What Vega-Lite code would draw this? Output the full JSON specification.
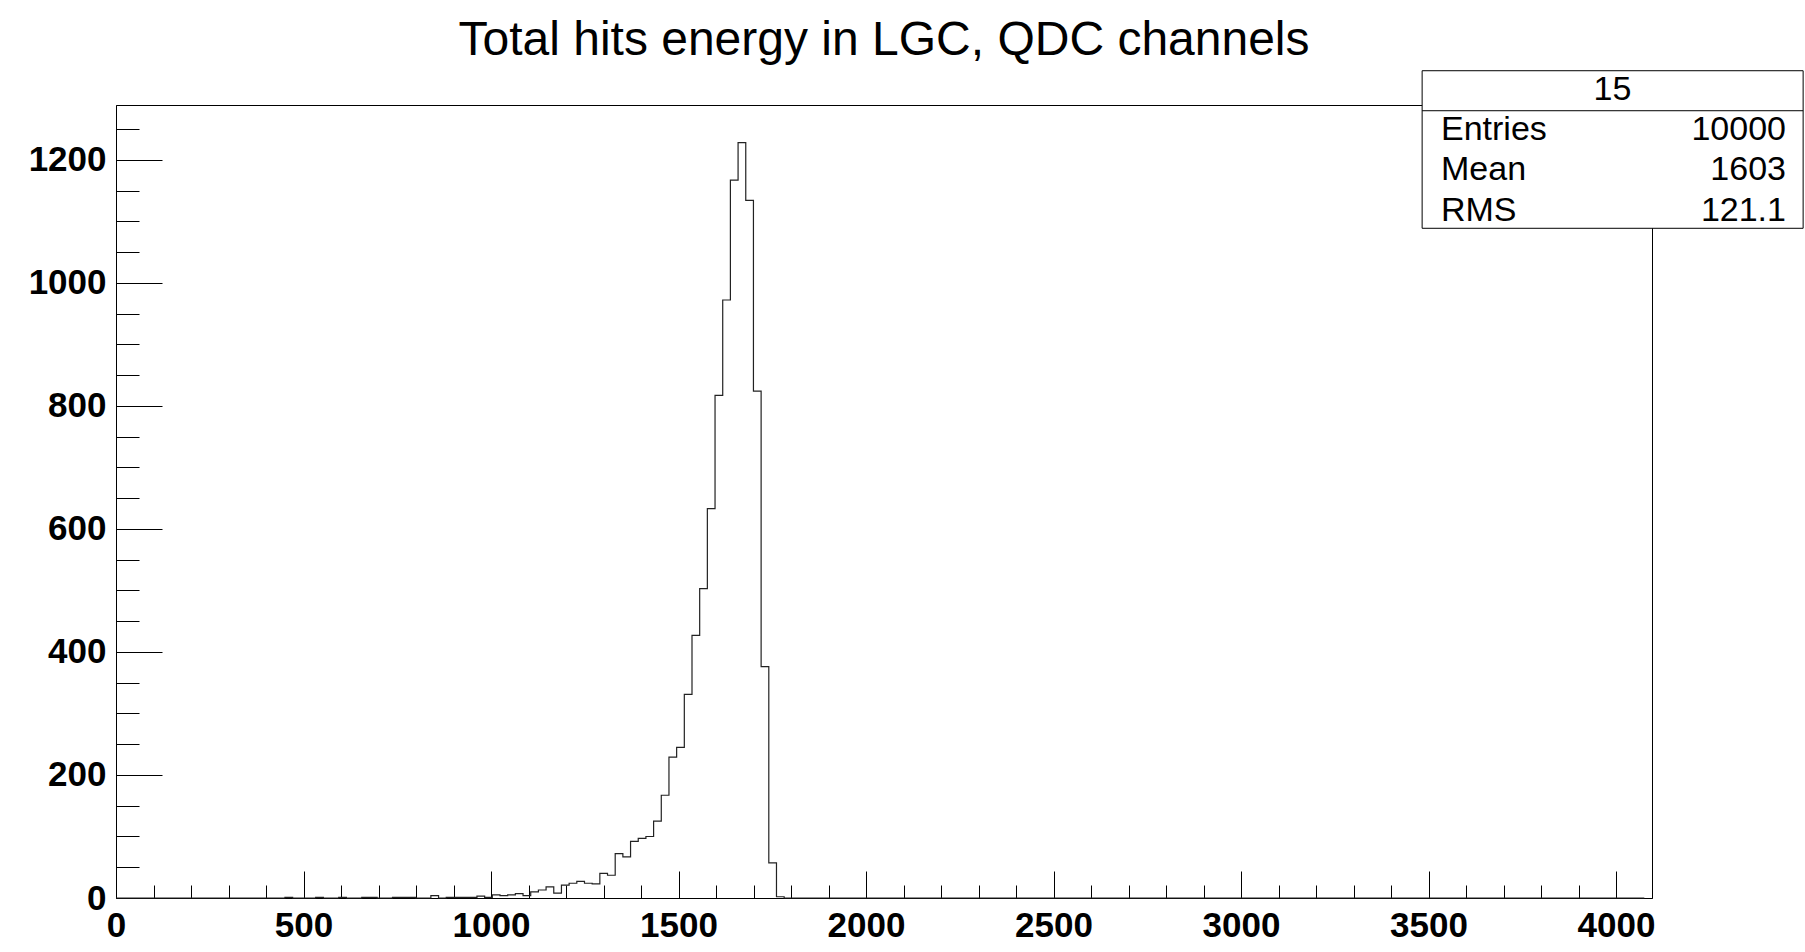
{
  "$schema": "https://vega.github.io/schema/vega-lite/v6.json",
  "width": 1536,
  "height": 793,
  "autosize": {"type": "none"},
  "padding": {"left": 116, "top": 105, "right": 153, "bottom": 54},
  "background": "white",
  "config": {
    "view": {"stroke": "black", "strokeWidth": 1},
    "font": "Liberation Sans"
  },
  "title": {
    "text": "Total hits energy in LGC, QDC channels",
    "font": "Liberation Sans",
    "fontSize": 48,
    "fontWeight": "normal",
    "color": "black",
    "anchor": "middle",
    "baseline": "alphabetic",
    "offset": -33
  },
  "datasets": {
    "hist": [
      {"lo": 0, "n": 0}, {"lo": 20.48, "n": 0}, {"lo": 40.96, "n": 0}, {"lo": 61.44, "n": 0}, {"lo": 81.92, "n": 0},
      {"lo": 102.4, "n": 0}, {"lo": 122.88, "n": 0}, {"lo": 143.36, "n": 0}, {"lo": 163.84, "n": 0}, {"lo": 184.32, "n": 0},
      {"lo": 204.8, "n": 0}, {"lo": 225.28, "n": 0}, {"lo": 245.76, "n": 0}, {"lo": 266.24, "n": 0}, {"lo": 286.72, "n": 0},
      {"lo": 307.2, "n": 0}, {"lo": 327.68, "n": 0}, {"lo": 348.16, "n": 0}, {"lo": 368.64, "n": 0}, {"lo": 389.12, "n": 0},
      {"lo": 409.6, "n": 0}, {"lo": 430.08, "n": 0}, {"lo": 450.56, "n": 1}, {"lo": 471.04, "n": 0}, {"lo": 491.52, "n": 0},
      {"lo": 512, "n": 0}, {"lo": 532.48, "n": 1}, {"lo": 552.96, "n": 0}, {"lo": 573.44, "n": 0}, {"lo": 593.92, "n": 1},
      {"lo": 614.4, "n": 0}, {"lo": 634.88, "n": 0}, {"lo": 655.36, "n": 1}, {"lo": 675.84, "n": 1}, {"lo": 696.32, "n": 0},
      {"lo": 716.8, "n": 0}, {"lo": 737.28, "n": 1}, {"lo": 757.76, "n": 1}, {"lo": 778.24, "n": 1}, {"lo": 798.72, "n": 0},
      {"lo": 819.2, "n": 0}, {"lo": 839.68, "n": 4}, {"lo": 860.16, "n": 0}, {"lo": 880.64, "n": 1}, {"lo": 901.12, "n": 1},
      {"lo": 921.6, "n": 1}, {"lo": 942.08, "n": 1}, {"lo": 962.56, "n": 3}, {"lo": 983.04, "n": 1}, {"lo": 1003.52, "n": 5},
      {"lo": 1024, "n": 4}, {"lo": 1044.48, "n": 5}, {"lo": 1064.96, "n": 7}, {"lo": 1085.44, "n": 4}, {"lo": 1105.92, "n": 10},
      {"lo": 1126.4, "n": 13}, {"lo": 1146.88, "n": 18}, {"lo": 1167.36, "n": 8}, {"lo": 1187.84, "n": 21}, {"lo": 1208.32, "n": 24},
      {"lo": 1228.8, "n": 27}, {"lo": 1249.28, "n": 24}, {"lo": 1269.76, "n": 23}, {"lo": 1290.24, "n": 40}, {"lo": 1310.72, "n": 37},
      {"lo": 1331.2, "n": 72}, {"lo": 1351.68, "n": 67}, {"lo": 1372.16, "n": 92}, {"lo": 1392.64, "n": 97}, {"lo": 1413.12, "n": 100},
      {"lo": 1433.6, "n": 125}, {"lo": 1454.08, "n": 167}, {"lo": 1474.56, "n": 229}, {"lo": 1495.04, "n": 245}, {"lo": 1515.52, "n": 331},
      {"lo": 1536, "n": 427}, {"lo": 1556.48, "n": 503}, {"lo": 1576.96, "n": 633}, {"lo": 1597.44, "n": 817}, {"lo": 1617.92, "n": 972},
      {"lo": 1638.4, "n": 1167}, {"lo": 1658.88, "n": 1228}, {"lo": 1679.36, "n": 1134}, {"lo": 1699.84, "n": 824}, {"lo": 1720.32, "n": 376},
      {"lo": 1740.8, "n": 57}, {"lo": 1761.28, "n": 2}, {"lo": 1781.76, "n": 0}, {"lo": 1802.24, "n": 0}, {"lo": 1822.72, "n": 0},
      {"lo": 1843.2, "n": 0}, {"lo": 1863.68, "n": 0}, {"lo": 1884.16, "n": 0}, {"lo": 1904.64, "n": 0}, {"lo": 1925.12, "n": 0},
      {"lo": 1945.6, "n": 0}, {"lo": 1966.08, "n": 0}, {"lo": 1986.56, "n": 0}, {"lo": 2007.04, "n": 0}, {"lo": 2027.52, "n": 0},
      {"lo": 2048, "n": 0}, {"lo": 2068.48, "n": 0}, {"lo": 2088.96, "n": 0}, {"lo": 2109.44, "n": 0}, {"lo": 2129.92, "n": 0},
      {"lo": 2150.4, "n": 0}, {"lo": 2170.88, "n": 0}, {"lo": 2191.36, "n": 0}, {"lo": 2211.84, "n": 0}, {"lo": 2232.32, "n": 0},
      {"lo": 2252.8, "n": 0}, {"lo": 2273.28, "n": 0}, {"lo": 2293.76, "n": 0}, {"lo": 2314.24, "n": 0}, {"lo": 2334.72, "n": 0},
      {"lo": 2355.2, "n": 0}, {"lo": 2375.68, "n": 0}, {"lo": 2396.16, "n": 0}, {"lo": 2416.64, "n": 0}, {"lo": 2437.12, "n": 0},
      {"lo": 2457.6, "n": 0}, {"lo": 2478.08, "n": 0}, {"lo": 2498.56, "n": 0}, {"lo": 2519.04, "n": 0}, {"lo": 2539.52, "n": 0},
      {"lo": 2560, "n": 0}, {"lo": 2580.48, "n": 0}, {"lo": 2600.96, "n": 0}, {"lo": 2621.44, "n": 0}, {"lo": 2641.92, "n": 0},
      {"lo": 2662.4, "n": 0}, {"lo": 2682.88, "n": 0}, {"lo": 2703.36, "n": 0}, {"lo": 2723.84, "n": 0}, {"lo": 2744.32, "n": 0},
      {"lo": 2764.8, "n": 0}, {"lo": 2785.28, "n": 0}, {"lo": 2805.76, "n": 0}, {"lo": 2826.24, "n": 0}, {"lo": 2846.72, "n": 0},
      {"lo": 2867.2, "n": 0}, {"lo": 2887.68, "n": 0}, {"lo": 2908.16, "n": 0}, {"lo": 2928.64, "n": 0}, {"lo": 2949.12, "n": 0},
      {"lo": 2969.6, "n": 0}, {"lo": 2990.08, "n": 0}, {"lo": 3010.56, "n": 0}, {"lo": 3031.04, "n": 0}, {"lo": 3051.52, "n": 0},
      {"lo": 3072, "n": 0}, {"lo": 3092.48, "n": 0}, {"lo": 3112.96, "n": 0}, {"lo": 3133.44, "n": 0}, {"lo": 3153.92, "n": 0},
      {"lo": 3174.4, "n": 0}, {"lo": 3194.88, "n": 0}, {"lo": 3215.36, "n": 0}, {"lo": 3235.84, "n": 0}, {"lo": 3256.32, "n": 0},
      {"lo": 3276.8, "n": 0}, {"lo": 3297.28, "n": 0}, {"lo": 3317.76, "n": 0}, {"lo": 3338.24, "n": 0}, {"lo": 3358.72, "n": 0},
      {"lo": 3379.2, "n": 0}, {"lo": 3399.68, "n": 0}, {"lo": 3420.16, "n": 0}, {"lo": 3440.64, "n": 0}, {"lo": 3461.12, "n": 0},
      {"lo": 3481.6, "n": 0}, {"lo": 3502.08, "n": 0}, {"lo": 3522.56, "n": 0}, {"lo": 3543.04, "n": 0}, {"lo": 3563.52, "n": 0},
      {"lo": 3584, "n": 0}, {"lo": 3604.48, "n": 0}, {"lo": 3624.96, "n": 0}, {"lo": 3645.44, "n": 0}, {"lo": 3665.92, "n": 0},
      {"lo": 3686.4, "n": 0}, {"lo": 3706.88, "n": 0}, {"lo": 3727.36, "n": 0}, {"lo": 3747.84, "n": 0}, {"lo": 3768.32, "n": 0},
      {"lo": 3788.8, "n": 0}, {"lo": 3809.28, "n": 0}, {"lo": 3829.76, "n": 0}, {"lo": 3850.24, "n": 0}, {"lo": 3870.72, "n": 0},
      {"lo": 3891.2, "n": 0}, {"lo": 3911.68, "n": 0}, {"lo": 3932.16, "n": 0}, {"lo": 3952.64, "n": 0}, {"lo": 3973.12, "n": 0},
      {"lo": 3993.6, "n": 0}, {"lo": 4014.08, "n": 0}, {"lo": 4034.56, "n": 0}, {"lo": 4055.04, "n": 0}, {"lo": 4075.52, "n": 0}
    ],
    "stats": [
      {"key": "Entries", "value": "10000"},
      {"key": "Mean", "value": "1603"},
      {"key": "RMS", "value": "121.1"}
    ]
  },
  "layer": [
    {
      "data": {"name": "hist"},
      "mark": {"type": "line", "interpolate": "step-after", "stroke": "#222", "strokeWidth": 1.2},
      "encoding": {
        "x": {
          "field": "lo", "type": "quantitative",
          "scale": {"domain": [0, 4096], "nice": false, "zero": false},
          "axis": {
            "title": null, "grid": false, "format": "d", "tickCount": 1000,
            "values": [0, 100, 200, 300, 400, 500, 600, 700, 800, 900, 1000, 1100, 1200, 1300, 1400, 1500, 1600, 1700, 1800, 1900, 2000, 2100, 2200, 2300, 2400, 2500, 2600, 2700, 2800, 2900, 3000, 3100, 3200, 3300, 3400, 3500, 3600, 3700, 3800, 3900, 4000],
            "tickSize": {"condition": {"test": "datum.value % 500 === 0", "value": -27}, "value": -13},
            "tickColor": "black", "tickWidth": 1,
            "domainColor": "black", "domainWidth": 1,
            "labelExpr": "datum.value % 500 === 0 ? datum.label : ''",
            "labelFont": "Liberation Sans", "labelFontSize": 35, "labelFontWeight": "bold", "labelColor": "black",
            "labelPadding": 37, "labelOverlap": false, "labelFlush": false, "labelBaseline": "top"
          }
        },
        "y": {
          "field": "n", "type": "quantitative",
          "scale": {"domain": [0, 1289], "nice": false},
          "axis": {
            "title": null, "grid": false, "format": "d", "tickCount": 1000,
            "values": [0, 50, 100, 150, 200, 250, 300, 350, 400, 450, 500, 550, 600, 650, 700, 750, 800, 850, 900, 950, 1000, 1050, 1100, 1150, 1200, 1250],
            "tickSize": {"condition": {"test": "datum.value % 200 === 0", "value": -46}, "value": -23},
            "tickColor": "black", "tickWidth": 1,
            "domainColor": "black", "domainWidth": 1,
            "labelExpr": "datum.value % 200 === 0 ? datum.label : ''",
            "labelFont": "Liberation Sans", "labelFontSize": 35, "labelFontWeight": "bold", "labelColor": "black",
            "labelPadding": 56, "labelOverlap": false, "labelFlush": false
          }
        }
      }
    },
    {
      "data": {"values": [{}]},
      "mark": {"type": "rect", "fill": "white", "stroke": "black", "strokeWidth": 1, "clip": false},
      "encoding": {
        "x": {"datum": 3483, "type": "quantitative"},
        "x2": {"datum": 4499},
        "y": {"datum": 1088.6, "type": "quantitative"},
        "y2": {"datum": 1344.7}
      }
    },
    {
      "data": {"values": [{}]},
      "mark": {"type": "rule", "stroke": "black", "strokeWidth": 1, "clip": false},
      "encoding": {
        "x": {"datum": 3483, "type": "quantitative"},
        "x2": {"datum": 4499},
        "y": {"datum": 1279.7, "type": "quantitative"}
      }
    },
    {
      "data": {"values": [{"name": "15"}]},
      "mark": {"type": "text", "font": "Liberation Sans", "fontSize": 34, "color": "black", "align": "center", "baseline": "middle", "clip": false},
      "encoding": {
        "x": {"datum": 3990.7, "type": "quantitative"},
        "y": {"datum": 1313.4, "type": "quantitative"},
        "text": {"field": "name"}
      }
    },
    {
      "data": {"name": "stats"},
      "transform": [{"filter": "datum.key === 'Entries'"}],
      "layer": [
        {
          "mark": {"type": "text", "font": "Liberation Sans", "fontSize": 34, "color": "black", "align": "left", "baseline": "middle", "clip": false},
          "encoding": {"x": {"datum": 3533.3, "type": "quantitative"}, "y": {"datum": 1248.4, "type": "quantitative"}, "text": {"field": "key"}}
        },
        {
          "mark": {"type": "text", "font": "Liberation Sans", "fontSize": 34, "color": "black", "align": "right", "baseline": "middle", "clip": false},
          "encoding": {"x": {"datum": 4453.3, "type": "quantitative"}, "y": {"datum": 1248.4, "type": "quantitative"}, "text": {"field": "value"}}
        }
      ]
    },
    {
      "data": {"name": "stats"},
      "transform": [{"filter": "datum.key === 'Mean'"}],
      "layer": [
        {
          "mark": {"type": "text", "font": "Liberation Sans", "fontSize": 34, "color": "black", "align": "left", "baseline": "middle", "clip": false},
          "encoding": {"x": {"datum": 3533.3, "type": "quantitative"}, "y": {"datum": 1183.4, "type": "quantitative"}, "text": {"field": "key"}}
        },
        {
          "mark": {"type": "text", "font": "Liberation Sans", "fontSize": 34, "color": "black", "align": "right", "baseline": "middle", "clip": false},
          "encoding": {"x": {"datum": 4453.3, "type": "quantitative"}, "y": {"datum": 1183.4, "type": "quantitative"}, "text": {"field": "value"}}
        }
      ]
    },
    {
      "data": {"name": "stats"},
      "transform": [{"filter": "datum.key === 'RMS'"}],
      "layer": [
        {
          "mark": {"type": "text", "font": "Liberation Sans", "fontSize": 34, "color": "black", "align": "left", "baseline": "middle", "clip": false},
          "encoding": {"x": {"datum": 3533.3, "type": "quantitative"}, "y": {"datum": 1116.7, "type": "quantitative"}, "text": {"field": "key"}}
        },
        {
          "mark": {"type": "text", "font": "Liberation Sans", "fontSize": 34, "color": "black", "align": "right", "baseline": "middle", "clip": false},
          "encoding": {"x": {"datum": 4453.3, "type": "quantitative"}, "y": {"datum": 1116.7, "type": "quantitative"}, "text": {"field": "value"}}
        }
      ]
    }
  ]
}
